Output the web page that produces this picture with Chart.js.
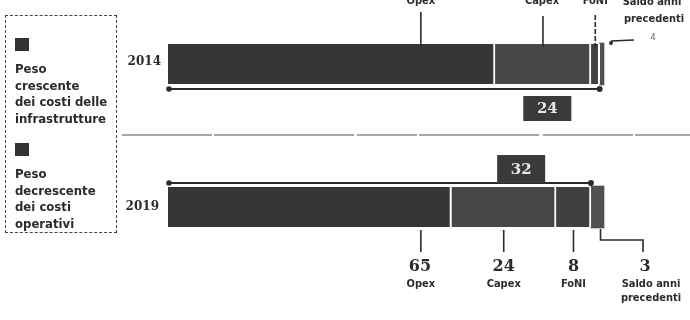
<!DOCTYPE html>
<html><head><meta charset="utf-8">
<script src="https://cdn.jsdelivr.net/npm/chart.js@4.4.1/dist/chart.umd.min.js"></script>
<style>
html,body{margin:0;padding:0;background:#fff;}
#wrap{position:relative;width:690px;height:320px;overflow:hidden;background:#fff;}
canvas{position:absolute;left:0;top:0;}
#legend{position:absolute;left:5px;top:15px;width:112px;height:218px;border:1.5px dashed #444;box-sizing:border-box;
 font-family:'Liberation Sans Narrow','DejaVu Sans Condensed','Liberation Sans',sans-serif;font-weight:bold;font-size:13px;line-height:16.7px;color:#2a2a2a;}
.sw{position:absolute;left:9px;width:14px;height:13px;background:#333;}
.tx{position:absolute;left:9px;white-space:nowrap;}
</style></head>
<body>
<div id="wrap">
<canvas id="c" width="690" height="320"></canvas>
<div id="legend"></div>
</div>
<script>
// ---- data ----
const CATEGORIES = ['2014', '2019'];
const SERIES = ['Opex', 'Capex', 'FoNI', 'Saldo anni precedenti'];
const OPEX  = [75, 65];
const CAPEX = [22, 24];
const FONI  = [2, 8];
const SALDO = [1, 3];
const LEGEND_LINES = [
  ['Peso', 'crescente', 'dei costi delle', 'infrastrutture'],
  ['Peso', 'decrescente', 'dei costi', 'operativi']
];

// ---- legend (HTML text) ----
const lg = document.getElementById('legend');
const swTops = [22, 127], txTops = [45, 150];
LEGEND_LINES.forEach((lines, i) => {
  const s = document.createElement('div'); s.className = 'sw'; s.style.top = swTops[i] + 'px'; lg.appendChild(s);
  const t = document.createElement('div'); t.className = 'tx'; t.style.top = txTops[i] + 'px';
  t.innerHTML = lines.join('<br>'); lg.appendChild(t);
});

const SANS = "'Liberation Sans Narrow','DejaVu Sans Condensed','Liberation Sans',sans-serif";
const SERIF = "'DejaVu Serif','Liberation Serif',serif";
const INK = '#2b2b2b';

const annot = {
  id: 'annot',
  afterDatasetsDraw(chart) {
    const ctx = chart.ctx, xs = chart.scales.x, ys = chart.scales.y;
    const X = v => xs.getPixelForValue(v);
    const yA = ys.getPixelForValue(0), yB = ys.getPixelForValue(1);
    const half = 20;
    ctx.save();
    ctx.fillStyle = INK; ctx.strokeStyle = INK;

    // separator
    ctx.strokeStyle = '#8a8a8a'; ctx.lineWidth = 1.5; ctx.setLineDash([90, 2, 140, 3, 60, 2, 120, 4]);
    ctx.beginPath(); ctx.moveTo(122, 135); ctx.lineTo(690, 135); ctx.stroke();
    ctx.setLineDash([]);

    // year labels
    ctx.fillStyle = INK;
    ctx.font = "bold 12px " + SERIF; ctx.textAlign = 'right'; ctx.textBaseline = 'middle';
    ctx.fillText(CATEGORIES[0], 161, yA - 2);
    ctx.fillText(CATEGORIES[1], 159, yB);

    const anchors = i => [58, OPEX[i] + CAPEX[i] / 2, OPEX[i] + CAPEX[i] + FONI[i] / 2];

    // ---- 2014: top labels & leaders ----
    const a0 = anchors(0);
    ctx.strokeStyle = INK; ctx.lineWidth = 1.6;
    [[a0[0], 12], [a0[1], 16], [a0[2], 15]].forEach(([v, top], k) => {
      if (k === 2) ctx.setLineDash([5, 2]);
      ctx.beginPath(); ctx.moveTo(X(v), top); ctx.lineTo(X(v), yA - half + 3); ctx.stroke();
      ctx.setLineDash([]);
    });
    ctx.font = "bold 11px " + SANS; ctx.textAlign = 'center'; ctx.textBaseline = 'middle';
    ctx.fillText(SERIES[0], X(a0[0]), 1);
    ctx.fillText(SERIES[1], X(a0[1]) - 1, 1);
    ctx.fillText(SERIES[2], X(a0[2]), 1);
    ctx.fillText('Saldo anni', 652, 2);
    ctx.fillText('precedenti', 654, 19);
    // saldo pointer 2014
    ctx.lineWidth = 1.5;
    ctx.beginPath(); ctx.arc(X(100) + 7, 43, 2, 0, Math.PI * 2); ctx.fill();
    ctx.beginPath(); ctx.moveTo(X(100) + 7, 41); ctx.lineTo(X(100) + 30, 40); ctx.stroke();
    ctx.fillStyle = '#666'; ctx.font = "9px " + SANS; ctx.fillText('4', 653, 38);
    ctx.fillStyle = INK;

    // ---- arrows ----
    const arrow = (i, y) => {
      const x1 = X(0), x2 = X(OPEX[i] + CAPEX[i] + FONI[i]);
      ctx.strokeStyle = INK; ctx.lineWidth = 2;
      ctx.beginPath(); ctx.moveTo(x1, y); ctx.lineTo(x2, y); ctx.stroke();
      ctx.beginPath(); ctx.arc(x1 + 1, y, 2.8, 0, Math.PI * 2); ctx.fill();
      ctx.beginPath(); ctx.arc(x2, y, 3, 0, Math.PI * 2); ctx.fill();
    };
    arrow(0, yA + 25);
    arrow(1, yB - 24);

    // ---- value boxes ----
    const box = (i, top, h) => {
      const c = X((OPEX[i] + OPEX[i] + CAPEX[i] + FONI[i]) / 2);
      const w = 48;
      ctx.fillStyle = '#3a3a3a'; ctx.fillRect(c - w / 2, top, w, h);
      ctx.fillStyle = '#e6e6e6'; ctx.font = "bold 15px " + SERIF; ctx.textAlign = 'center'; ctx.textBaseline = 'middle';
      ctx.fillText(String(CAPEX[i] + FONI[i]), c, top + h / 2 + 1);
      ctx.fillStyle = INK;
    };
    box(0, yA + 32, 25);
    box(1, yB - 52, 28);

    // ---- 2019: bottom leaders, values, labels ----
    const a1 = anchors(1);
    const bot = yB + half + 1;
    ctx.strokeStyle = INK; ctx.lineWidth = 1.6;
    a1.forEach(v => { ctx.beginPath(); ctx.moveTo(X(v), bot + 2); ctx.lineTo(X(v), bot + 24); ctx.stroke(); });
    // saldo bracket
    const sx = X(99.2), ex = 643;
    ctx.beginPath(); ctx.moveTo(sx, bot + 1); ctx.lineTo(sx, bot + 12); ctx.lineTo(ex, bot + 12); ctx.lineTo(ex, bot + 24); ctx.stroke();

    const vals = [OPEX[1], CAPEX[1], FONI[1], SALDO[1]];
    const cx = [X(a1[0]) - 1, X(a1[1]), X(a1[2]), 645];
    ctx.fillStyle = INK; ctx.textAlign = 'center'; ctx.textBaseline = 'middle';
    ctx.font = "bold 16px " + SERIF;
    vals.forEach((v, k) => ctx.fillText(String(v), cx[k], 267));
    ctx.font = "bold 11px " + SANS;
    ctx.fillText(SERIES[0], cx[0] + 1, 284);
    ctx.fillText(SERIES[1], cx[1], 284);
    ctx.fillText(SERIES[2], cx[2], 284);
    ctx.fillText('Saldo anni', 651, 284);
    ctx.fillText('precedenti', 651, 298);
    ctx.restore();
  }
};

const seg = (label, data, color, thick, border) => ({
  label, data, backgroundColor: color, borderColor: '#ffffff',
  borderWidth: border ? { top: 0, bottom: 0, left: 0, right: 2 } : 0,
  borderSkipped: false, barThickness: thick, clip: false, stack: 's'
});

new Chart(document.getElementById('c'), {
  type: 'bar',
  data: {
    labels: CATEGORIES,
    datasets: [
      seg(SERIES[0], OPEX, '#363636', 40, true),
      seg(SERIES[1], CAPEX, '#474747', 40, true),
      seg(SERIES[2], FONI, '#404040', 40, true),
      seg(SERIES[3], SALDO, '#505050', 42, false)
    ]
  },
  options: {
    indexAxis: 'y',
    responsive: false,
    devicePixelRatio: 1,
    animation: false,
    layout: { padding: { left: 168, right: 86, top: 64, bottom: 113 } },
    scales: {
      x: { type: 'linear', min: 0, max: 100, stacked: true, display: false },
      y: { type: 'category', stacked: true, offset: false, display: false }
    },
    plugins: { legend: { display: false }, tooltip: { enabled: false } }
  },
  plugins: [annot]
});
</script>
</body></html>
